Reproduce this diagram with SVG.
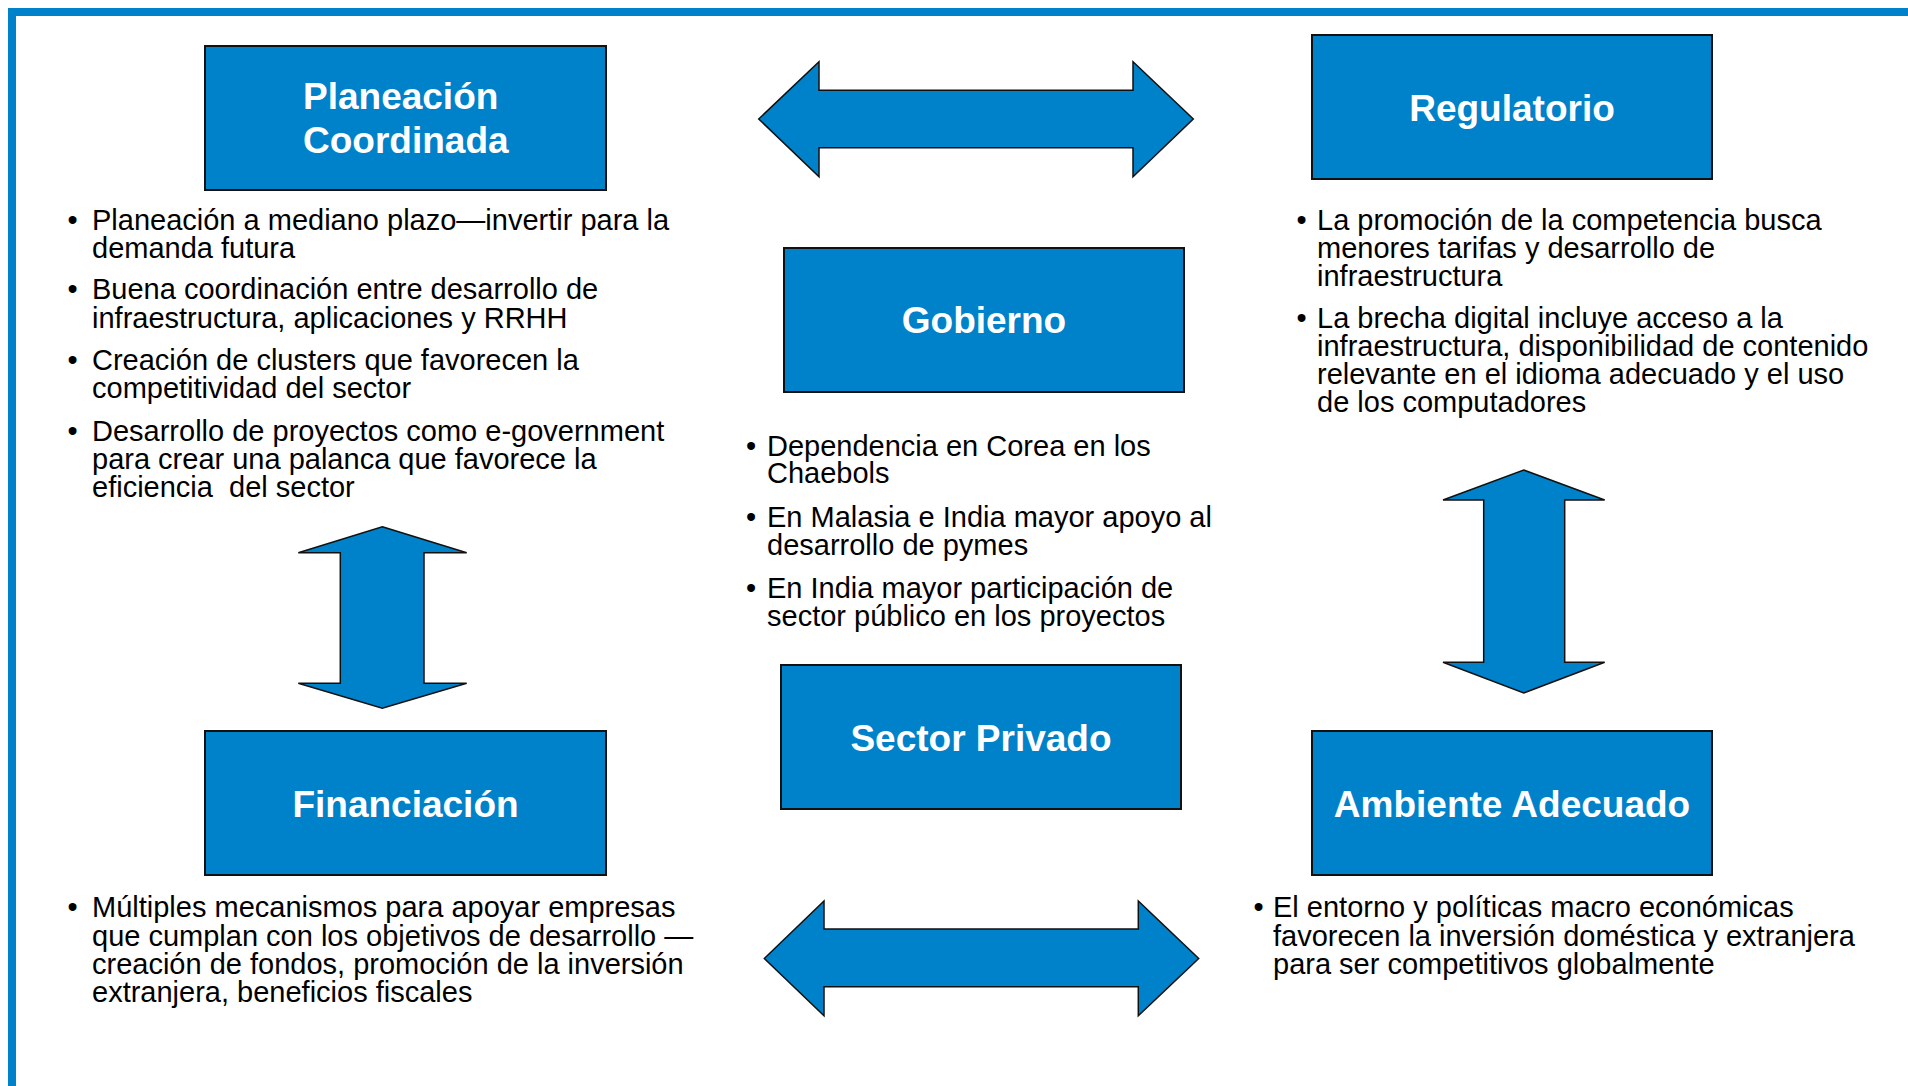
<svg xmlns="http://www.w3.org/2000/svg" width="1908" height="1086" viewBox="0 0 1908 1086">
<style>
.box{fill:#0082CA;stroke:#111;stroke-width:2}
.arrow{fill:#0082CA;stroke:#111;stroke-width:1.5;stroke-linejoin:miter}
.title{font-family:Arial,"Liberation Sans",Arimo,Helvetica,sans-serif;font-weight:bold;font-size:37px;fill:#fff}
.tc{text-anchor:middle}
.body{font-family:Arial,"Liberation Sans",Arimo,Helvetica,sans-serif;font-size:29px;fill:#000}
</style>
<rect width="1908" height="1086" fill="#fff"/>
<rect x="12" y="12" width="2000" height="2000" fill="none" stroke="#0082CA" stroke-width="8"/>

<g id="connectors">
<polygon class="arrow" points="758.7,119 819,61.7 819,90.3 1133,90.3 1133,61.7 1193.3,119 1133,176.7 1133,147.7 819,147.7 819,176.7"/>
<polygon class="arrow" points="764.3,958.5 824,901 824,929 1138.3,929 1138.3,901 1198.7,958.5 1138.3,1015.7 1138.3,986.7 824,986.7 824,1015.7"/>
<polygon class="arrow" points="382.3,526.7 466.7,552.7 424,552.7 424,683.3 466.7,683.3 382.3,708.3 298.3,683.3 340.3,683.3 340.3,552.7 298.3,552.7"/>
<polygon class="arrow" points="1523.7,470 1604.7,500 1564.7,500 1564.7,662.3 1604.7,662.3 1523.7,693 1443,662.3 1483.7,662.3 1483.7,500 1443,500"/>
</g>

<g id="planeacion">
<rect class="box" x="205" y="46" width="401" height="144"/>
<text class="title" x="303" y="109">Planeación<tspan x="303" y="153.3">Coordinada</tspan></text>
<g class="body">
<text x="67.5" y="230">•</text>
<text x="92" y="230">Planeación a mediano plazo—invertir para la<tspan x="92" y="257.7">demanda futura</tspan></text>
<text x="67.5" y="299">•</text>
<text x="92" y="299">Buena coordinación entre desarrollo de<tspan x="92" y="327.7">infraestructura, aplicaciones y RRHH</tspan></text>
<text x="67.5" y="370">•</text>
<text x="92" y="370">Creación de clusters que favorecen la<tspan x="92" y="398.3">competitividad del sector</tspan></text>
<text x="67.5" y="441">•</text>
<text x="92" y="441" xml:space="preserve">Desarrollo de proyectos como e-government<tspan x="92" y="469.3">para crear una palanca que favorece la</tspan><tspan x="92" y="497.3">eficiencia  del sector</tspan></text>
</g>
</g>

<g id="regulatorio">
<rect class="box" x="1312" y="35" width="400" height="144"/>
<text class="title tc" x="1512" y="120.7">Regulatorio</text>
<g class="body">
<text x="1296.5" y="230">•</text>
<text x="1317" y="230">La promoción de la competencia busca<tspan x="1317" y="257.7">menores tarifas y desarrollo de</tspan><tspan x="1317" y="285.7">infraestructura</tspan></text>
<text x="1296.5" y="328.3">•</text>
<text x="1317" y="328.3">La brecha digital incluye acceso a la<tspan x="1317" y="356">infraestructura, disponibilidad de contenido</tspan><tspan x="1317" y="384">relevante en el idioma adecuado y el uso</tspan><tspan x="1317" y="412.3">de los computadores</tspan></text>
</g>
</g>

<g id="gobierno">
<rect class="box" x="784" y="248" width="400" height="144"/>
<text class="title tc" x="984" y="333.3">Gobierno</text>
<g class="body">
<text x="746" y="456">•</text>
<text x="767" y="456">Dependencia en Corea en los<tspan x="767" y="483.3">Chaebols</tspan></text>
<text x="746" y="527">•</text>
<text x="767" y="527">En Malasia e India mayor apoyo al<tspan x="767" y="555">desarrollo de pymes</tspan></text>
<text x="746" y="597.7">•</text>
<text x="767" y="597.7">En India mayor participación de<tspan x="767" y="626">sector público en los proyectos</tspan></text>
</g>
</g>

<g id="sector-privado">
<rect class="box" x="781" y="665" width="400" height="144"/>
<text class="title tc" x="981" y="750.7">Sector Privado</text>
</g>

<g id="financiacion">
<rect class="box" x="205" y="731" width="401" height="144"/>
<text class="title tc" x="405.5" y="816.7">Financiación</text>
<g class="body">
<text x="67.5" y="917.3">•</text>
<text x="92" y="917.3">Múltiples mecanismos para apoyar empresas<tspan x="92" y="945.7">que cumplan con los objetivos de desarrollo —</tspan><tspan x="92" y="974">creación de fondos, promoción de la inversión</tspan><tspan x="92" y="1001.7">extranjera, beneficios fiscales</tspan></text>
</g>
</g>

<g id="ambiente">
<rect class="box" x="1312" y="731" width="400" height="144"/>
<text class="title tc" x="1512" y="816.7">Ambiente Adecuado</text>
<g class="body">
<text x="1253.5" y="917.3">•</text>
<text x="1273" y="917.3">El entorno y políticas macro económicas<tspan x="1273" y="945.7">favorecen la inversión doméstica y extranjera</tspan><tspan x="1273" y="974">para ser competitivos globalmente</tspan></text>
</g>
</g>
</svg>
